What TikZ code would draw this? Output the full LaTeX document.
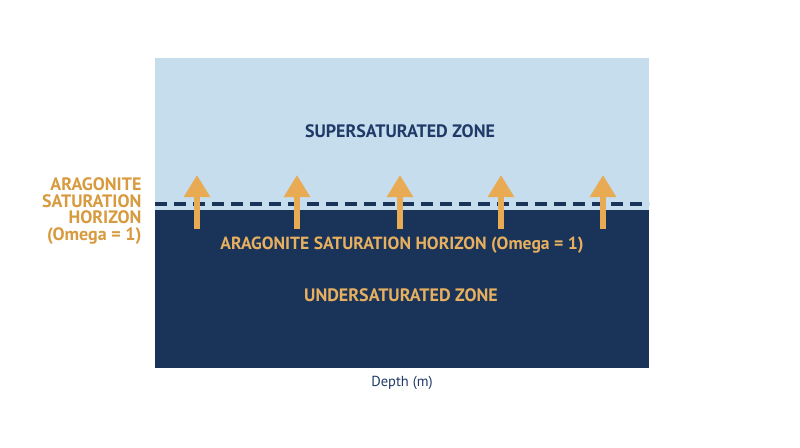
\documentclass[tikz,border=0pt]{standalone}
\usepackage{fontspec}
\setmainfont{PT Sans}
\usepackage{xcolor}
\usetikzlibrary{arrows.meta}

\definecolor{seabright}{HTML}{C6DDEE}
\definecolor{seadeep}{HTML}{1A3358}
\definecolor{navytext}{HTML}{1F3A66}
\definecolor{arrowgold}{HTML}{E8AA52}
\definecolor{ambertext}{HTML}{E6B060}
\definecolor{sidetext}{HTML}{D89A3E}

\begin{document}
\begin{tikzpicture}[x=1pt,y=-1pt,
    zonetext/.style={font=\bfseries\fontsize{18}{20}\selectfont},
    uparrow/.style={arrowgold, line width=6pt, -{Triangle[width=25pt,length=22pt]}}]
    \useasboundingbox (0,0) rectangle (800,447);

    \fill[seabright] (155,58) rectangle (649,210);
    \fill[seadeep] (155,210) rectangle (649,368);
    \draw[seadeep, line width=4.5pt, dash pattern=on 12pt off 7pt] (155,204) -- (649,204);

    \foreach \x in {197,297,400,501,603}
        \draw[uparrow] (\x,229) -- (\x,175);

    \node[zonetext, text=navytext] (supersat) at (400,131) {SUPERSATURATED ZONE};
    \node[zonetext, text=ambertext, font=\bfseries\fontsize{17.6}{20}\selectfont] (horizon) at (402,245) {ARAGONITE SATURATION HORIZON (Omega = 1)};
    \node[zonetext, text=ambertext] (undersat) at (401,295) {UNDERSATURATED ZONE};
    \node[zonetext, text=sidetext, align=right, anchor=east, font=\bfseries\fontsize{18}{16.5}\selectfont] (sidelabel) at (145,211)
        {ARAGONITE\\SATURATION\\HORIZON\\(Omega = 1)};
    \node[text=navytext, font=\fontsize{14.5}{16}\selectfont] (depth) at (402,383) {Depth (m)};
\end{tikzpicture}
\end{document}
